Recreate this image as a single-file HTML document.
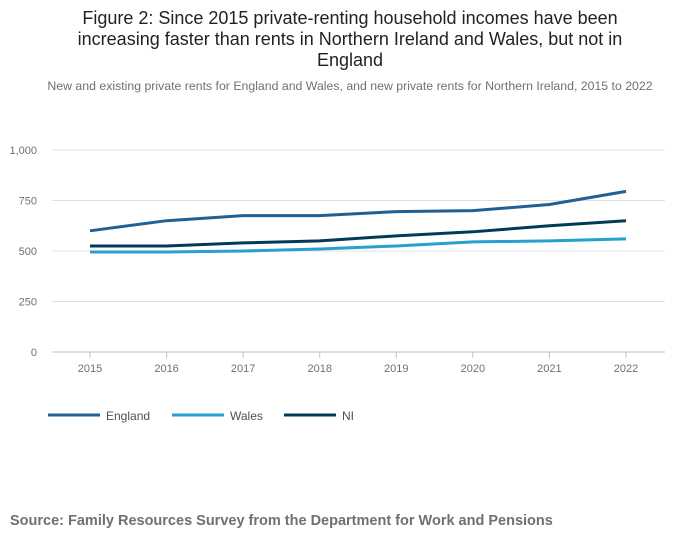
<!DOCTYPE html>
<html><head><meta charset="utf-8"><style>
body{margin:0;width:700px;height:549px;background:#fff;font-family:"Liberation Sans",sans-serif;overflow:hidden}
.t{position:absolute;left:0;width:700px;text-align:center;font-size:18px;color:#222;line-height:21px;top:8px}
.s{position:absolute;left:0;width:700px;text-align:center;font-size:12.3px;color:#707070;top:79px}
.src{position:absolute;left:10px;top:513px;font-size:14.5px;font-weight:bold;color:#707070}
</style></head><body>
<div class="t">Figure 2: Since 2015 private-renting household incomes have been<br>increasing faster than rents in Northern Ireland and Wales, but not in<br>England</div>
<div class="s">New and existing private rents for England and Wales, and new private rents for Northern Ireland, 2015 to 2022</div>
<svg id="c" width="700" height="549" style="position:absolute;left:0;top:0"></svg>
<div class="src">Source: Family Resources Survey from the Department for Work and Pensions</div>
<script>
const years=[2015,2016,2017,2018,2019,2020,2021,2022];
const england=[600,650,675,675,695,700,730,795];
const wales=[495,495,500,510,525,545,550,560];
const ni=[525,525,540,550,575,595,625,650];
const yTicks=[0,250,500,750,1000];
const yTickLabels=["0","250","500","750","1,000"];
const NS="http://www.w3.org/2000/svg";
const svg=document.getElementById('c');
const x=i=>90+i*(626-90)/(years.length-1);
const y=v=>352-v*(352-150)/1000;
function mk(t,a,p){const e=document.createElementNS(NS,t);for(const k in a)e.setAttribute(k,a[k]);(p||svg).appendChild(e);return e;}
yTicks.forEach((v,i)=>{
  const g=mk('line',{x1:52,x2:665,y1:y(v),y2:y(v),stroke:v===0?'#b3c3dc':'#e0e0e0','stroke-width':1});
  
  
  const t=mk('text',{x:37,y:y(v)+4,'text-anchor':'end','font-size':11,fill:'#707070'});
  t.textContent=yTickLabels[i];
  
  
});
years.forEach((yr,i)=>{
  const l=mk('line',{x1:x(i),x2:x(i),y1:352,y2:358,stroke:'#b3c3dc'});
  
  
  const t=mk('text',{x:x(i),y:372,'text-anchor':'middle','font-size':11,fill:'#707070'});
  t.textContent=yr;
  
  
});
const series=[["England",england,"#206095"],["Wales",wales,"#27a0cc"],["NI",ni,"#003c57"]];
series.forEach(([n,d,c])=>{
  const p=mk('polyline',{points:d.map((v,i)=>x(i)+','+y(v)).join(' '),fill:'none',stroke:c,'stroke-width':3,'stroke-linejoin':'round'});
  
  
});
const lx=[48,172,284];
series.forEach(([n,d,c],i)=>{
  const g=mk('g',{});
  
  
  mk('line',{x1:lx[i],x2:lx[i]+52,y1:415,y2:415,stroke:c,'stroke-width':3},g);
  const t=mk('text',{x:lx[i]+58,y:420,'font-size':12,fill:'#505050'},g);
  t.textContent=n;
});
</script>
</body></html>
